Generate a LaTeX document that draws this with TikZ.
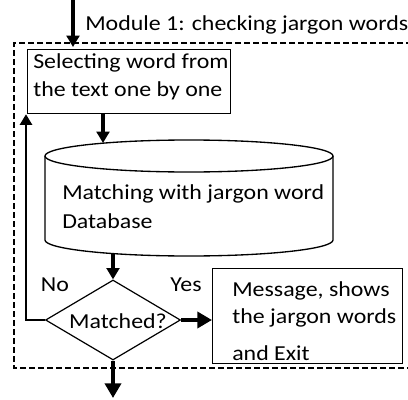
\documentclass[tikz,border=0pt]{standalone}
\usepackage{fontspec}
\setmainfont{Carlito}[FakeStretch=1.12]
\usetikzlibrary{arrows.meta,shapes.geometric,calc}

\begin{document}
\begin{tikzpicture}[x=0.75pt,y=-0.75pt,
  txt/.style={font=\fontsize{16}{21}\selectfont, inner sep=0pt, align=left},
  box/.style={draw, line width=0.9pt, inner sep=0pt},
  flow/.style={line width=2.5pt, -{Triangle[width=9.5pt,length=8.5pt]}},
  bigflow/.style={line width=3.2pt, -{Triangle[width=12pt,length=11pt]}},
  loopflow/.style={line width=1.9pt, -{Triangle[width=9pt,length=8pt]}},
  frame/.style={line width=2pt, dash pattern=on 4.5pt off 2.25pt},
]
\useasboundingbox (0,0) rectangle (408,400);

% module boundary (dashed, open on the right)
\draw[frame] (412,43) -- (14,43) -- (14,368) -- (412,368);

% word selection
\node[box, minimum width=152.25pt, minimum height=48pt, anchor=north west] (sel) at (27,49) {};
\node[txt, anchor=north west] (selt) at (33,53) {Selecting word from\\the text one by one};

% database cylinder
\node[minimum width=216pt, minimum height=87pt, inner sep=0pt] (db) at (189,198) {};
\draw[line width=1pt] (189,156) ellipse [x radius=144, y radius=16];
\draw[line width=1pt] (45,156) -- (45,240) arc[start angle=180, end angle=0, x radius=144, y radius=16] -- (333,156);
\node[txt, anchor=north west, font=\fontsize{16}{22}\selectfont] (dbt) at (62,184) {Matching with jargon word\\Database};

% decision
\node[diamond, draw, line width=0.9pt, inner sep=0pt, aspect=1.69,
      minimum width=101.25pt, minimum height=60pt] (dec) at (113,320) {};
\node[txt] (dect) at (118,321) {Matched?};
\node[txt] (no) at (55,285) {No};
\node[txt] (yes) at (186,285) {Yes};

% message box
\node[box, minimum width=142.5pt, minimum height=71.25pt, anchor=north west] (msg) at (212,268) {};
\node[txt, anchor=north west, font=\fontsize{16}{20.5}\selectfont] (msgt) at (232,281) {Message, shows\\the jargon words\\[7pt]and Exit};

% module title
\node[txt, anchor=north west] (title) at (85,15) {Module 1: checking jargon words};

% connectors
\coordinate (in) at (73,0);
\coordinate (out) at (113,398);
\coordinate (ret) at (26,320);
\draw[flow] (in) -- (73,47);
\draw[flow] ($(sel.south west)+(76,0)$) -- (103,143);
\draw[flow] (113,254) -- (dec.north);
\draw[bigflow] (dec.east) -- (msg.west |- dec.east);
\draw[bigflow] (dec.south) -- (out);
\draw[loopflow] (dec.west) -- (ret) -- (ret |- sel.south);
\end{tikzpicture}
\end{document}
